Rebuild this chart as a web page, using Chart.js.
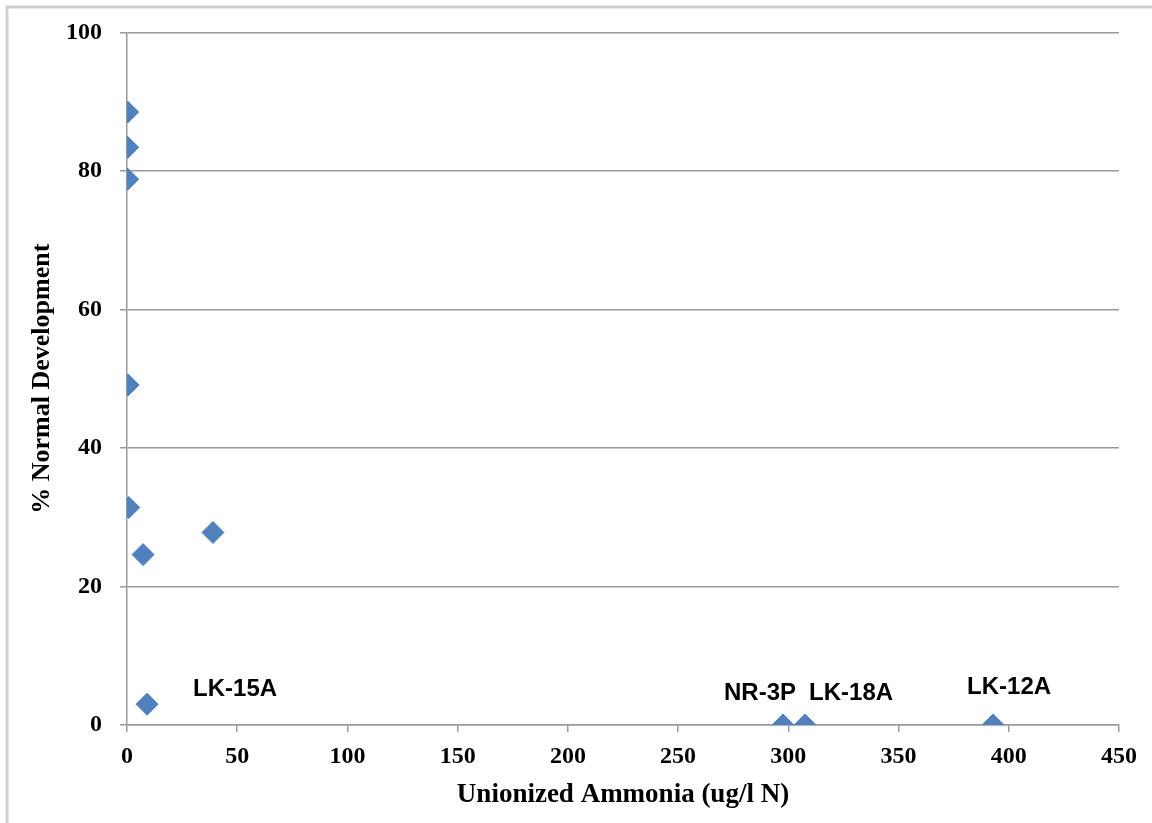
<!DOCTYPE html>
<html>
<head>
<meta charset="utf-8">
<script src="https://cdn.jsdelivr.net/npm/chart.js@4.4.1/dist/chart.umd.min.js"></script>
<style>
  html, body { margin: 0; padding: 0; background: #ffffff; }
  #wrap { position: relative; width: 1152px; height: 823px; }
  canvas { display: block; }
</style>
</head>
<body>
<div id="wrap"><canvas id="c" width="1152" height="823"></canvas></div>
<script>
// ---- data ----
const ammonia = [0.3, 0.3, 0.3, 0.5, 0.8, 7.3, 39.0, 9.1, 297.6, 307.6, 392.9];
const normalDev = [88.5, 83.4, 78.8, 49.1, 31.4, 24.6, 27.8, 3.0, 0, 0, 0];
const siteLabels = ['', '', '', '', '', '', '', 'LK-15A', 'NR-3P', 'LK-18A', 'LK-12A'];
const xTitle = 'Unionized Ammonia (ug/l N)';
const yTitle = '% Normal Development';

// label placement offsets relative to each marker (pixels)
const labelOffsets = {
  'LK-15A': [88, -15],
  'NR-3P': [-23, -32],
  'LK-18A': [46, -32],
  'LK-12A': [16, -38]
};

const points = ammonia.map((x, i) => ({ x: x, y: normalDev[i] }));

const framePlugin = {
  id: 'frame',
  beforeDraw(chart) {
    const ctx = chart.ctx;
    ctx.save();
    ctx.fillStyle = '#ffffff';
    ctx.fillRect(0, 0, chart.width, chart.height);
    ctx.strokeStyle = '#d0d0d0';
    ctx.lineWidth = 3;
    ctx.beginPath();
    ctx.moveTo(7, chart.height);
    ctx.lineTo(7, 7);
    ctx.lineTo(chart.width, 7);
    ctx.stroke();
    ctx.restore();
  }
};

const labelPlugin = {
  id: 'siteLabels',
  afterDatasetsDraw(chart) {
    const ctx = chart.ctx;
    const xs = chart.scales.x, ys = chart.scales.y;
    ctx.save();
    ctx.font = 'bold 24px "Liberation Sans", Arial, sans-serif';
    ctx.fillStyle = '#000000';
    ctx.textAlign = 'center';
    ctx.textBaseline = 'middle';
    siteLabels.forEach((lab, i) => {
      if (!lab) return;
      const off = labelOffsets[lab] || [0, -25];
      const px = xs.getPixelForValue(ammonia[i]);
      const py = ys.getPixelForValue(normalDev[i]);
      ctx.fillText(lab, px + off[0], py + off[1]);
    });
    ctx.restore();
  }
};

const serif = '"Liberation Serif", "Times New Roman", serif';

new Chart(document.getElementById('c'), {
  type: 'scatter',
  data: {
    datasets: [{
      data: points,
      pointStyle: 'rectRot',
      pointRadius: 11,
      pointHoverRadius: 11,
      backgroundColor: '#4F81BD',
      borderColor: '#4F81BD',
      borderWidth: 1
    }]
  },
  options: {
    responsive: false,
    animation: false,
    layout: { padding: { left: 0, top: 26, right: 33, bottom: 0 } },
    plugins: {
      legend: { display: false },
      tooltip: { enabled: false }
    },
    scales: {
      x: {
        type: 'linear',
        min: 0, max: 450,
        afterFit(scale) { scale.height = 98; },
        ticks: {
          stepSize: 50,
          color: '#000000',
          padding: 10,
          maxRotation: 0,
          font: { family: serif, size: 24, weight: 'bold' }
        },
        grid: {
          drawOnChartArea: false,
          drawTicks: true,
          tickLength: 7,
          color: '#9a9a9a',
          lineWidth: 1.5
        },
        border: { display: true, color: '#9a9a9a', width: 1.5 },
        title: {
          display: true,
          text: xTitle,
          color: '#000000',
          padding: { top: 12, bottom: 12 },
          font: { family: serif, size: 27, weight: 'bold' }
        }
      },
      y: {
        type: 'linear',
        min: 0, max: 100,
        afterFit(scale) { scale.width = 127; },
        ticks: {
          stepSize: 20,
          color: '#000000',
          padding: 18,
          font: { family: serif, size: 24, weight: 'bold' }
        },
        grid: {
          drawOnChartArea: true,
          drawTicks: true,
          tickLength: 7,
          color: '#9a9a9a',
          lineWidth: 1.5
        },
        border: { display: true, color: '#9a9a9a', width: 1.5 },
        title: {
          display: true,
          text: yTitle,
          color: '#000000',
          padding: { top: 27, bottom: 27 },
          font: { family: serif, size: 26, weight: 'bold' }
        }
      }
    }
  },
  plugins: [framePlugin, labelPlugin]
});
</script>
</body>
</html>
